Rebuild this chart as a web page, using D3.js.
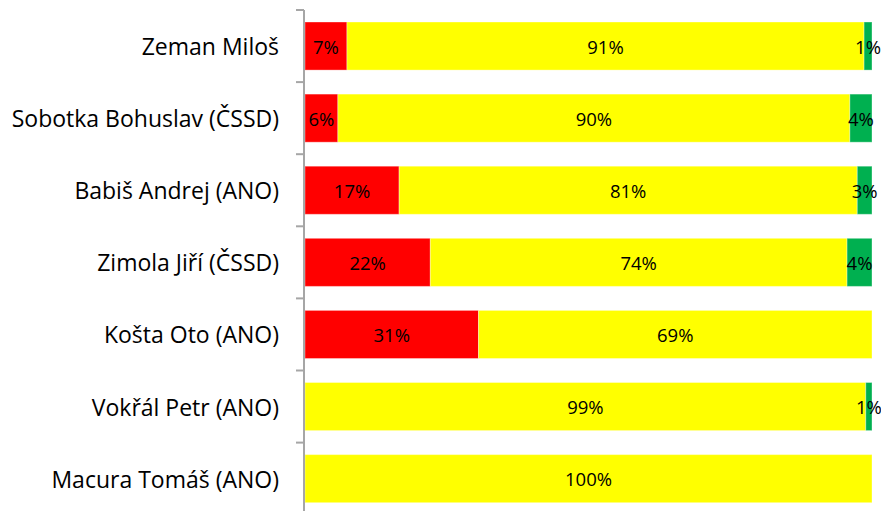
<!DOCTYPE html>
<html><head><meta charset="utf-8">
<script src="https://cdn.jsdelivr.net/npm/d3@7"></script>
<style>body{margin:0;background:#fff}svg{display:block}</style>
</head><body>
<svg id="c" width="881" height="511"></svg>
<script>
const categories = ["Zeman Miloš","Sobotka Bohuslav (ČSSD)","Babiš Andrej (ANO)","Zimola Jiří (ČSSD)","Košta Oto (ANO)","Vokřál Petr (ANO)","Macura Tomáš (ANO)"];
const redValues    = [7.4, 5.8, 16.6, 22.1, 30.6, 0, 0];
const yellowValues = [91.2, 90.3, 80.8, 73.5, 69.4, 98.9, 100];
const greenValues  = [1.4, 3.9, 2.6, 4.4, 0, 1.1, 0];
const seriesNames = ["red","yellow","green"];
const colors = {red:"#ff0000", yellow:"#ffff00", green:"#00b050"};

const svg = d3.select("#c");
const m = {left:305, right:9, top:10};
const W = 881, bandH = 72.1;
const x = d3.scaleLinear().domain([0,100]).range([m.left, W - m.right]);
const y = d3.scaleBand().domain(categories).range([m.top, m.top + bandH*categories.length]).paddingInner(0.333).paddingOuter(0.1665);

const rows = categories.map((c,i)=>({cat:c, red:redValues[i], yellow:yellowValues[i], green:greenValues[i]}));
const stack = d3.stack().keys(seriesNames)(rows);

const g = svg.append("g");
stack.forEach(layer=>{
  const key = layer.key;
  layer.forEach(d=>{
    const v = d[1]-d[0];
    if (v<=0) return;
    g.append("rect")
      .attr("x", x(d[0])).attr("y", y(d.data.cat))
      .attr("width", x(d[1])-x(d[0])).attr("height", y.bandwidth())
      .attr("fill", colors[key])
      .attr("stroke","rgba(255,255,255,0.35)").attr("stroke-width",1);
  });
});
stack.forEach(layer=>{
  layer.forEach(d=>{
    const v = d[1]-d[0];
    if (v<=0) return;
    g.append("text")
      .attr("x", (x(d[0])+x(d[1]))/2).attr("y", y(d.data.cat)+y.bandwidth()/2)
      .attr("text-anchor","middle").attr("dominant-baseline","central")
      .attr("font-family","'Open Sans', sans-serif").attr("font-size",18.5)
      .attr("fill","#000").text(Math.round(v)+"%");
  });
});

// axis
const axisG = svg.append("g").attr("transform",`translate(${m.left-1},0)`);
axisG.append("line").attr("x1",0).attr("x2",0).attr("y1",m.top).attr("y2",m.top+bandH*categories.length)
  .attr("stroke","#a6a6a6").attr("stroke-width",2);
d3.range(categories.length+1).forEach(i=>{
  const yy = m.top + bandH*i;
  axisG.append("line").attr("x1",-8).attr("x2",0).attr("y1",yy).attr("y2",yy)
    .attr("stroke","#a6a6a6").attr("stroke-width",2);
});
categories.forEach(c=>{
  svg.append("text").attr("x",279).attr("y",y(c)+y.bandwidth()/2)
    .attr("text-anchor","end").attr("dominant-baseline","central")
    .attr("font-family","'Open Sans', sans-serif").attr("font-size",23)
    .attr("fill","#000").text(c);
});
</script>
</body></html>
